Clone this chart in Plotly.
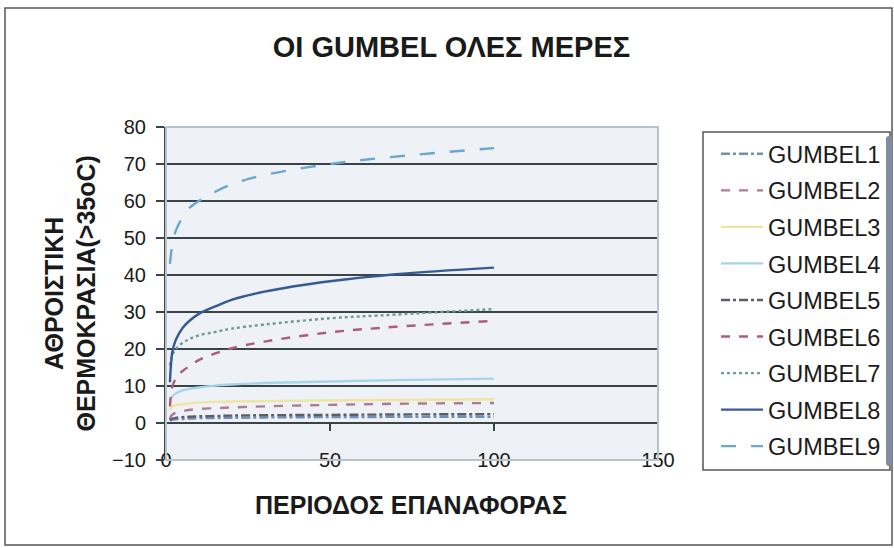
import plotly.graph_objects as go

# Return period (years) on the x axis
return_period = [1.2, 1.5, 2, 3, 5, 7, 10, 15, 20, 30, 50, 70, 100]

# Cumulative temperature (>35oC) for each Gumbel fit
gumbel1 = [0.6, 0.8, 0.9, 1.0, 1.1, 1.2, 1.3, 1.35, 1.4, 1.5, 1.6, 1.65, 1.7]
gumbel2 = [1.0, 1.8, 2.3, 2.8, 3.2, 3.5, 3.8, 4.0, 4.2, 4.5, 4.9, 5.2, 5.4]
gumbel3 = [3.5, 4.0, 4.5, 4.8, 5.1, 5.3, 5.5, 5.7, 5.8, 5.9, 6.1, 6.2, 6.4]
gumbel4 = [5.5, 6.5, 7.3, 8.0, 8.8, 9.2, 9.6, 10.1, 10.4, 10.8, 11.2, 11.6, 12.0]
gumbel5 = [0.8, 1.0, 1.2, 1.4, 1.6, 1.7, 1.8, 1.9, 2.0, 2.1, 2.2, 2.3, 2.4]
gumbel6 = [4.5, 7.5, 10.0, 12.0, 14.0, 15.3, 17.0, 18.8, 20.2, 22.0, 24.5, 26.0, 27.6]
gumbel7 = [15.5, 17.0, 18.5, 20.0, 21.6, 22.6, 23.7, 24.6, 25.5, 26.6, 28.3, 29.3, 30.8]
gumbel8 = [11.0, 15.5, 19.5, 22.5, 25.6, 27.5, 29.5, 31.5, 33.3, 35.5, 38.3, 40.2, 42.0]
gumbel9 = [43.0, 45.5, 48.5, 52.0, 55.5, 58.0, 60.0, 62.5, 64.5, 67.0, 70.0, 72.0, 74.3]

series_names = ["GUMBEL1", "GUMBEL2", "GUMBEL3", "GUMBEL4", "GUMBEL5",
                "GUMBEL6", "GUMBEL7", "GUMBEL8", "GUMBEL9"]
series_values = [gumbel1, gumbel2, gumbel3, gumbel4, gumbel5,
                 gumbel6, gumbel7, gumbel8, gumbel9]
series_colors = ["#6f8fb5", "#b07a95", "#eee6a0", "#a6d4ea", "#5c5c6c",
                 "#ad5d78", "#6f9a9a", "#355a94", "#6aa6d2"]
series_dash = ["dashdot", "dash", "solid", "solid", "dashdot",
               "dash", "dot", "solid", "longdash"]

y_ticks = list(range(-10, 81, 10))
x_ticks = [0, 50, 100, 150]

fig = go.Figure()
for name, vals, col, dash in zip(series_names, series_values, series_colors, series_dash):
    fig.add_trace(go.Scatter(
        x=return_period, y=vals, name=name, mode="lines",
        line=dict(color=col, width=2.4, dash=dash, shape="spline"),
        legendgroup=name,
    ))

W, H = 894, 548
L, R, T, B = 166, 658, 127, 460


def px_x(p):
    return (p - L) / (R - L)


def px_y(p):
    return (B - p) / (B - T)


axis_dark = "#3a4448"
fig.update_layout(
    width=W, height=H,
    margin=dict(l=L, r=W - R, t=T, b=H - B, autoexpand=False),
    paper_bgcolor="white",
    plot_bgcolor="#eef1f5",
    font=dict(family="Arial, Liberation Sans, sans-serif", color="#1a1a1a"),
    title=dict(text="<b>ΟΙ GUMBEL ΟΛΕΣ ΜΕΡΕΣ</b>", xref="container", x=0.505,
               yref="container", y=1 - 47 / H, xanchor="center", yanchor="middle",
               font=dict(size=29)),
    xaxis=dict(range=[0, 150], tickvals=x_ticks, showgrid=False, zeroline=False,
               showline=False, ticks="", anchor="free", position=px_y(446),
               tickfont=dict(size=20)),
    xaxis2=dict(range=[0, 150], tickvals=x_ticks, overlaying="x", matches="x",
                anchor="free", position=px_y(423), showticklabels=False,
                ticks="outside", ticklen=7, tickcolor=axis_dark, tickwidth=1.5,
                showline=True, linecolor=axis_dark, linewidth=2, showgrid=False,
                zeroline=False),
    yaxis=dict(range=[-10, 80], tickvals=y_ticks, showgrid=True, gridcolor=axis_dark,
               gridwidth=2, zeroline=False, showline=True, linecolor=axis_dark,
               linewidth=2, ticks="outside", ticklen=8, tickcolor=axis_dark,
               tickwidth=1.5, tickfont=dict(size=20), ticklabelstandoff=6),
    showlegend=True,
    legend=dict(x=px_x(716), y=px_y(132), xanchor="left", yanchor="top",
                font=dict(size=23.5), itemwidth=42, tracegroupgap=3,
                bgcolor="rgba(0,0,0,0)", borderwidth=0, traceorder="grouped"),
    shapes=[
        # plot area border
        dict(type="rect", xref="paper", yref="paper", x0=0, x1=1, y0=0, y1=1,
             line=dict(color="#b9c1c9", width=2), layer="above"),
        # legend frame
        dict(type="rect", xref="paper", yref="paper", x0=px_x(703), x1=px_x(890),
             y0=px_y(470), y1=px_y(132), line=dict(color="#555", width=1.5)),
        # chart frame
        dict(type="rect", xref="paper", yref="paper", x0=px_x(5), x1=px_x(892),
             y0=px_y(545), y1=px_y(8), line=dict(color="#555", width=1.5)),
    ],
    annotations=[
        dict(text="<b>ΑΘΡΟΙΣΤΙΚΗ<br>ΘΕΡΜΟΚΡΑΣΙΑ(>35oC)</b>", xref="paper", yref="paper",
             x=px_x(70), y=0.5, textangle=-90, showarrow=False,
             xanchor="center", yanchor="middle", font=dict(size=25)),
        dict(text="<b>ΠΕΡΙΟΔΟΣ ΕΠΑΝΑΦΟΡΑΣ</b>", xref="paper", yref="paper",
             x=px_x(411), y=px_y(505), showarrow=False,
             xanchor="center", yanchor="middle", font=dict(size=25)),
    ],
)

# a second x axis carries the tick marks along the zero line
fig.add_trace(go.Scatter(x=[0], y=[None], xaxis="x2", showlegend=False, hoverinfo="skip"))

fig.write_html("out.html")
